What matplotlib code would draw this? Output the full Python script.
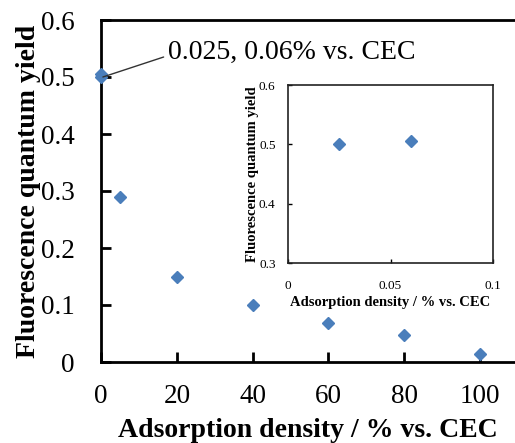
import matplotlib
matplotlib.use("Agg")
import matplotlib.pyplot as plt

# Main data
density = [0, 0.06, 5, 20, 40, 60, 80, 100]
yield_ = [0.50, 0.505, 0.29, 0.15, 0.10, 0.068, 0.048, 0.014]

# Inset data
inset_density = [0.025, 0.06]
inset_yield = [0.50, 0.505]

main_xticks = [0, 20, 40, 60, 80, 100]
main_yticks = [0, 0.1, 0.2, 0.3, 0.4, 0.5, 0.6]
main_ytick_labels = ["0", "0.1", "0.2", "0.3", "0.4", "0.5", "0.6"]
inset_xticks = [0, 0.05, 0.1]
inset_xtick_labels = ["0", "0.05", "0.1"]
inset_yticks = [0.3, 0.4, 0.5, 0.6]

xlabel = "Adsorption density / % vs. CEC"
ylabel = "Fluorescence quantum yield"
annot = "0.025, 0.06% vs. CEC"

plt.rcParams['font.family'] = ['Liberation Serif', 'DejaVu Serif']
color = '#4a7ebb'

fig = plt.figure(figsize=(5.15, 4.43), dpi=100)
ax = fig.add_axes([101/515, 1 - 362/443, 1 - 101/515, (362 - 20)/443])
ax.plot(density, yield_, linestyle='none', marker='D', ms=6, color=color, clip_on=False, zorder=3)
ax.set_xlim(0, 109.2)
ax.set_ylim(0, 0.6)
ax.set_xticks(main_xticks)
ax.set_yticks(main_yticks)
ax.set_yticklabels(main_ytick_labels)
ax.spines['right'].set_visible(False)
for s in ['left', 'bottom', 'top']:
    ax.spines[s].set_linewidth(2)
ax.tick_params(direction='in', length=7, width=2, labelsize=19.5)
ax.tick_params(axis='y', pad=19)
ax.tick_params(axis='x', pad=16)
ax.set_xlabel(xlabel, fontsize=20, fontweight='bold', labelpad=6)
ax.set_ylabel(ylabel, fontsize=20, fontweight='bold', labelpad=0)
ax.annotate(annot, xy=(0.5, 0.50), xytext=(17.6, 0.544), fontsize=20,
            va='center', ha='left',
            arrowprops=dict(arrowstyle='-', color='#333333', lw=1, shrinkA=1, shrinkB=0,
                            relpos=(0, 0.35)))

# Inset
axi = fig.add_axes([288/515, 1 - 263/443, (493 - 288)/515, (263 - 85)/443])
axi.plot(inset_density, inset_yield, linestyle='none', marker='D', ms=6, color=color)
axi.set_xlim(0, 0.1)
axi.set_ylim(0.3, 0.6)
axi.set_xticks(inset_xticks)
axi.set_xticklabels(inset_xtick_labels)
axi.set_yticks(inset_yticks)
for s in axi.spines.values():
    s.set_linewidth(1.2)
    s.set_color('#222222')
axi.tick_params(direction='in', length=3, width=1, labelsize=9.5)
axi.tick_params(axis='y', pad=9)
axi.tick_params(axis='x', pad=12)
axi.set_xlabel(xlabel, fontsize=10.5, fontweight='bold', labelpad=3)
axi.set_ylabel(ylabel, fontsize=10.5, fontweight='bold', labelpad=0)

fig.savefig("out.png", dpi=100)
